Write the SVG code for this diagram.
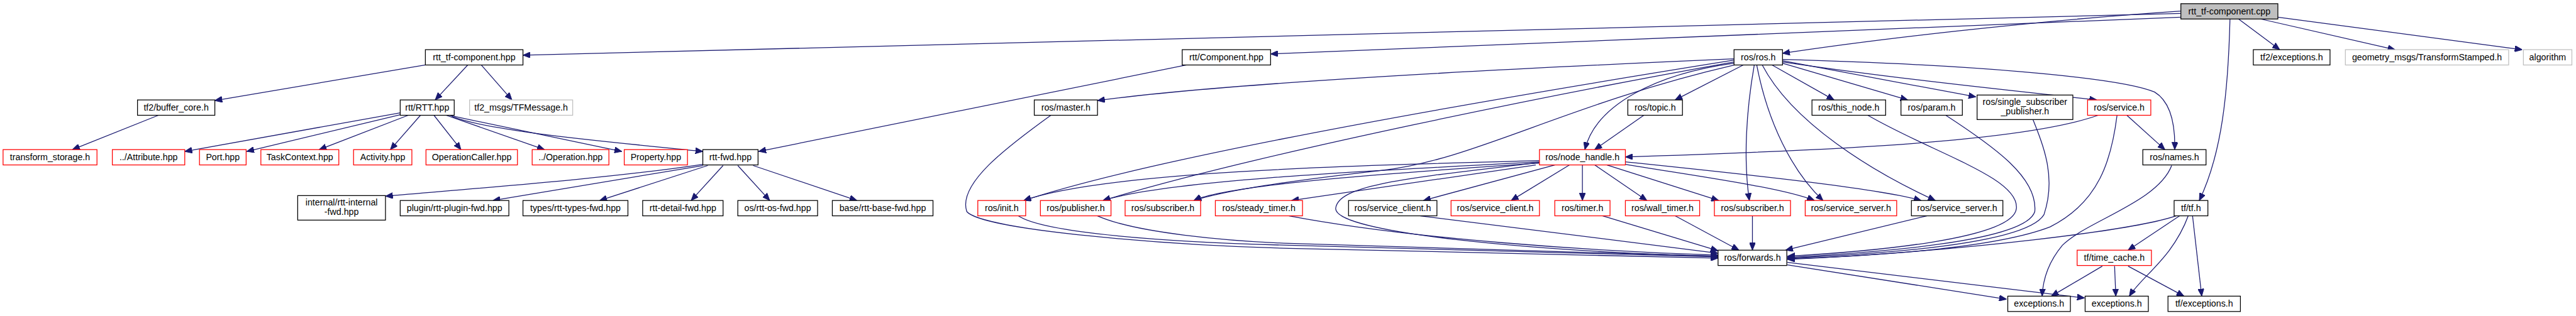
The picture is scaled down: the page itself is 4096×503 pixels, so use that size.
<svg xmlns="http://www.w3.org/2000/svg" width="4096" height="503" viewBox="0 0 4096 503">
<style>
rect{fill:#fff;stroke:#000;stroke-width:1.3}
.r rect{stroke:#ff0000}
.g rect{stroke:#bfbfbf}
.c rect{fill:#bfbfbf}
text{font-family:"Liberation Sans",Arial,sans-serif;font-size:14.6px;text-anchor:middle;fill:#000}
#edges path{fill:none;stroke:#191970;stroke-width:1.3;marker-end:url(#a)}
</style>
<defs>
<marker id="a" markerUnits="userSpaceOnUse" markerWidth="12" markerHeight="10" viewBox="0 0 12 10" refX="12" refY="5" orient="auto"><path d="M0,0L12,5L0,10z" fill="#191970" stroke="#191970" stroke-width="1"/></marker>
</defs>
<rect x="0" y="0" width="4096" height="503" style="fill:#fff;stroke:none"/>
<g transform="scale(0.976)">
<g id="edges">
<path d="M3553,22L852,90"/>
<path d="M3553,28L2070,88"/>
<path d="M3553,18C3300,35 3050,65 2904,87"/>
<path d="M3647,31L3714,81"/>
<path d="M3683,31L3902,81"/>
<path d="M3711,28L4109,81"/>
<path d="M3633,31C3630,150 3620,250 3583,327"/>
<path d="M693,106L350,164"/>
<path d="M762,106L709,163"/>
<path d="M784,106L834,163"/>
<path d="M258,188L118,244"/>
<path d="M652,184L301,247"/>
<path d="M652,187L402,247"/>
<path d="M665,188L520,244"/>
<path d="M685,188L636,244"/>
<path d="M707,188L751,244"/>
<path d="M727,188L887,244"/>
<path d="M731,188L1013,247"/>
<path d="M736,190C800,215 1000,232 1145,247"/>
<path d="M1933,106L1236,247"/>
<path d="M1145,268C1000,290 800,305 628,320"/>
<path d="M1145,270L803,327"/>
<path d="M1153,270L977,327"/>
<path d="M1178,270L1126,327"/>
<path d="M1202,270L1254,327"/>
<path d="M1227,270L1396,327"/>
<path d="M2825,96C2500,110 2000,135 1788,164"/>
<path d="M2825,98C2500,150 1900,250 1668,327"/>
<path d="M2825,101C2550,150 2050,250 1797,327"/>
<path d="M2825,103C2700,120 2600,170 2582,244"/>
<path d="M2826,106C2550,170 2400,262 2250,278C2100,295 2000,310 1945,327"/>
<path d="M2840,106L2729,163"/>
<path d="M2858,106C2845,180 2840,260 2850,327"/>
<path d="M2862,106C2880,200 2920,280 2970,327"/>
<path d="M2871,106C2920,200 3050,280 3153,327"/>
<path d="M2887,106L2988,163"/>
<path d="M2904,103L3108,163"/>
<path d="M2904,99L3219,158"/>
<path d="M2904,101C3100,130 3300,150 3416,163"/>
<path d="M2904,97C3200,105 3450,125 3510,150C3535,165 3544,200 3543,244"/>
<path d="M2678,188L2598,244"/>
<path d="M3418,188C3300,230 3000,245 2648,256"/>
<path d="M3465,188L3527,244"/>
<path d="M3449,188C3440,260 3420,330 3340,370C3250,405 3050,418 2912,422"/>
<path d="M3043,188C3150,250 3290,290 3285,340C3280,390 3050,410 2912,418"/>
<path d="M3170,188C3250,240 3320,290 3315,345C3300,395 3050,412 2912,420"/>
<path d="M3312,195C3330,240 3350,290 3330,350C3300,400 3050,415 2912,421"/>
<path d="M3538,270C3515,330 3400,360 3360,400C3335,430 3328,460 3327,483"/>
<path d="M3545,352C3480,375 3200,410 2912,423"/>
<path d="M3551,352L3467,408"/>
<path d="M3565,352C3540,420 3490,450 3469,483"/>
<path d="M3572,352L3587,483"/>
<path d="M3425,434L3342,483"/>
<path d="M3445,434L3447,483"/>
<path d="M3467,434L3558,483"/>
<path d="M2912,432L3269,488"/>
<path d="M2912,428L3396,486"/>
<path d="M2855,352L2855,408"/>
<path d="M3139,352L2909,408"/>
<path d="M2729,352L2833,408"/>
<path d="M2611,352L2799,409"/>
<path d="M2314,352L2799,413"/>
<path d="M2100,352C2300,390 2600,410 2799,416"/>
<path d="M2508,265C2300,290 2180,300 2176,340C2175,380 2500,410 2799,418"/>
<path d="M1659,352C1700,380 1900,395 2100,400C2400,410 2700,416 2799,419"/>
<path d="M1788,352C1850,380 2000,393 2100,397C2400,408 2700,415 2799,418"/>
<path d="M1712,188C1640,240 1560,300 1575,345C1600,375 1900,400 2100,405C2400,412 2700,418 2799,421"/>
<path d="M2508,262C2200,270 1800,280 1668,327"/>
<path d="M2508,264C2200,280 1900,295 1797,327"/>
<path d="M2508,266C2300,280 2000,300 1945,327"/>
<path d="M2502,269L2104,327"/>
<path d="M2533,269L2319,327"/>
<path d="M2557,269L2462,327"/>
<path d="M2578,269L2578,327"/>
<path d="M2598,269L2683,327"/>
<path d="M2618,269L2800,327"/>
<path d="M2648,268C2750,285 2900,305 2956,327"/>
<path d="M2648,264C2800,280 3050,305 3130,327"/>
</g>
<g id="n_cpp" class="c"><rect x="3553" y="6" width="158" height="25"/><text x="3632" y="23.5">rtt_tf-component.cpp</text></g>
<g id="n_hpp"><rect x="693" y="81" width="159" height="25"/><text x="772.5" y="98.5">rtt_tf-component.hpp</text></g>
<g id="n_component"><rect x="1926" y="81" width="144" height="25"/><text x="1998" y="98.5">rtt/Component.hpp</text></g>
<g id="n_rosh"><rect x="2825" y="81" width="79" height="25"/><text x="2864.5" y="98.5">ros/ros.h</text></g>
<g id="n_tf2exc"><rect x="3671" y="81" width="125" height="25"/><text x="3733.5" y="98.5">tf2/exceptions.h</text></g>
<g id="n_geom" class="g"><rect x="3821" y="81" width="266" height="25"/><text x="3954" y="98.5">geometry_msgs/TransformStamped.h</text></g>
<g id="n_algo" class="g"><rect x="4111" y="81" width="79" height="25"/><text x="4150.5" y="98.5">algorithm</text></g>
<g id="n_buffer"><rect x="224" y="163" width="126" height="25"/><text x="287" y="180.5">tf2/buffer_core.h</text></g>
<g id="n_rtt"><rect x="652" y="163" width="88" height="25"/><text x="696" y="180.5">rtt/RTT.hpp</text></g>
<g id="n_tfmsg" class="g"><rect x="765" y="163" width="168" height="25"/><text x="849" y="180.5">tf2_msgs/TFMessage.h</text></g>
<g id="n_master"><rect x="1685" y="163" width="103" height="25"/><text x="1736.5" y="180.5">ros/master.h</text></g>
<g id="n_topic"><rect x="2652" y="163" width="89" height="25"/><text x="2696.5" y="180.5">ros/topic.h</text></g>
<g id="n_thisnode"><rect x="2952" y="163" width="120" height="25"/><text x="3012" y="180.5">ros/this_node.h</text></g>
<g id="n_param"><rect x="3097" y="163" width="100" height="25"/><text x="3147" y="180.5">ros/param.h</text></g>
<g id="n_singlesub"><rect x="3221" y="155" width="156" height="40"/><text x="3299" y="171.5">ros/single_subscriber</text><text x="3299" y="186.5">_publisher.h</text></g>
<g id="n_service" class="r"><rect x="3401" y="163" width="103" height="25"/><text x="3452.5" y="180.5">ros/service.h</text></g>
<g id="n_tstorage" class="r"><rect x="5" y="244" width="153" height="25"/><text x="81.5" y="261.5">transform_storage.h</text></g>
<g id="n_attr" class="r"><rect x="183" y="244" width="118" height="25"/><text x="242" y="261.5">../Attribute.hpp</text></g>
<g id="n_port" class="r"><rect x="325" y="244" width="76" height="25"/><text x="363" y="261.5">Port.hpp</text></g>
<g id="n_task" class="r"><rect x="425" y="244" width="127" height="25"/><text x="488.5" y="261.5">TaskContext.hpp</text></g>
<g id="n_activity" class="r"><rect x="576" y="244" width="95" height="25"/><text x="623.5" y="261.5">Activity.hpp</text></g>
<g id="n_opcaller" class="r"><rect x="694" y="244" width="149" height="25"/><text x="768.5" y="261.5">OperationCaller.hpp</text></g>
<g id="n_operation" class="r"><rect x="867" y="244" width="125" height="25"/><text x="929.5" y="261.5">../Operation.hpp</text></g>
<g id="n_property" class="r"><rect x="1017" y="244" width="103" height="25"/><text x="1068.5" y="261.5">Property.hpp</text></g>
<g id="n_rttfwd"><rect x="1145" y="244" width="90" height="25"/><text x="1190" y="261.5">rtt-fwd.hpp</text></g>
<g id="n_nodehandle" class="r"><rect x="2508" y="244" width="140" height="25"/><text x="2578" y="261.5">ros/node_handle.h</text></g>
<g id="n_names"><rect x="3491" y="244" width="103" height="25"/><text x="3542.5" y="261.5">ros/names.h</text></g>
<g id="n_internal"><rect x="485" y="319" width="143" height="40"/><text x="556.5" y="335.5">internal/rtt-internal</text><text x="556.5" y="350.5">-fwd.hpp</text></g>
<g id="n_plugin"><rect x="652" y="327" width="177" height="25"/><text x="740.5" y="344.5">plugin/rtt-plugin-fwd.hpp</text></g>
<g id="n_types"><rect x="852" y="327" width="171" height="25"/><text x="937.5" y="344.5">types/rtt-types-fwd.hpp</text></g>
<g id="n_detail"><rect x="1047" y="327" width="131" height="25"/><text x="1112.5" y="344.5">rtt-detail-fwd.hpp</text></g>
<g id="n_os"><rect x="1202" y="327" width="130" height="25"/><text x="1267" y="344.5">os/rtt-os-fwd.hpp</text></g>
<g id="n_base"><rect x="1356" y="327" width="164" height="25"/><text x="1438" y="344.5">base/rtt-base-fwd.hpp</text></g>
<g id="n_init" class="r"><rect x="1593" y="327" width="78" height="25"/><text x="1632" y="344.5">ros/init.h</text></g>
<g id="n_publisher" class="r"><rect x="1695" y="327" width="115" height="25"/><text x="1752.5" y="344.5">ros/publisher.h</text></g>
<g id="n_subscriber1" class="r"><rect x="1833" y="327" width="123" height="25"/><text x="1894.5" y="344.5">ros/subscriber.h</text></g>
<g id="n_steady" class="r"><rect x="1980" y="327" width="142" height="25"/><text x="2051" y="344.5">ros/steady_timer.h</text></g>
<g id="n_sclient1"><rect x="2197" y="327" width="144" height="25"/><text x="2269" y="344.5">ros/service_client.h</text></g>
<g id="n_sclient2" class="r"><rect x="2364" y="327" width="144" height="25"/><text x="2436" y="344.5">ros/service_client.h</text></g>
<g id="n_timer" class="r"><rect x="2533" y="327" width="90" height="25"/><text x="2578" y="344.5">ros/timer.h</text></g>
<g id="n_walltimer" class="r"><rect x="2648" y="327" width="121" height="25"/><text x="2708.5" y="344.5">ros/wall_timer.h</text></g>
<g id="n_subscriber2" class="r"><rect x="2793" y="327" width="124" height="25"/><text x="2855" y="344.5">ros/subscriber.h</text></g>
<g id="n_sserver1" class="r"><rect x="2941" y="327" width="149" height="25"/><text x="3015.5" y="344.5">ros/service_server.h</text></g>
<g id="n_sserver2"><rect x="3114" y="327" width="149" height="25"/><text x="3188.5" y="344.5">ros/service_server.h</text></g>
<g id="n_tfh"><rect x="3542" y="327" width="55" height="25"/><text x="3569.5" y="344.5">tf/tf.h</text></g>
<g id="n_forwards"><rect x="2799" y="408" width="112" height="25"/><text x="2855" y="425.5">ros/forwards.h</text></g>
<g id="n_timecache" class="r"><rect x="3384" y="408" width="121" height="25"/><text x="3444.5" y="425.5">tf/time_cache.h</text></g>
<g id="n_exc1"><rect x="3271" y="483" width="102" height="25"/><text x="3322" y="500.5">exceptions.h</text></g>
<g id="n_exc2"><rect x="3397" y="483" width="103" height="25"/><text x="3448.5" y="500.5">exceptions.h</text></g>
<g id="n_tfexc"><rect x="3532" y="483" width="118" height="25"/><text x="3591" y="500.5">tf/exceptions.h</text></g>
</g>
</svg>
